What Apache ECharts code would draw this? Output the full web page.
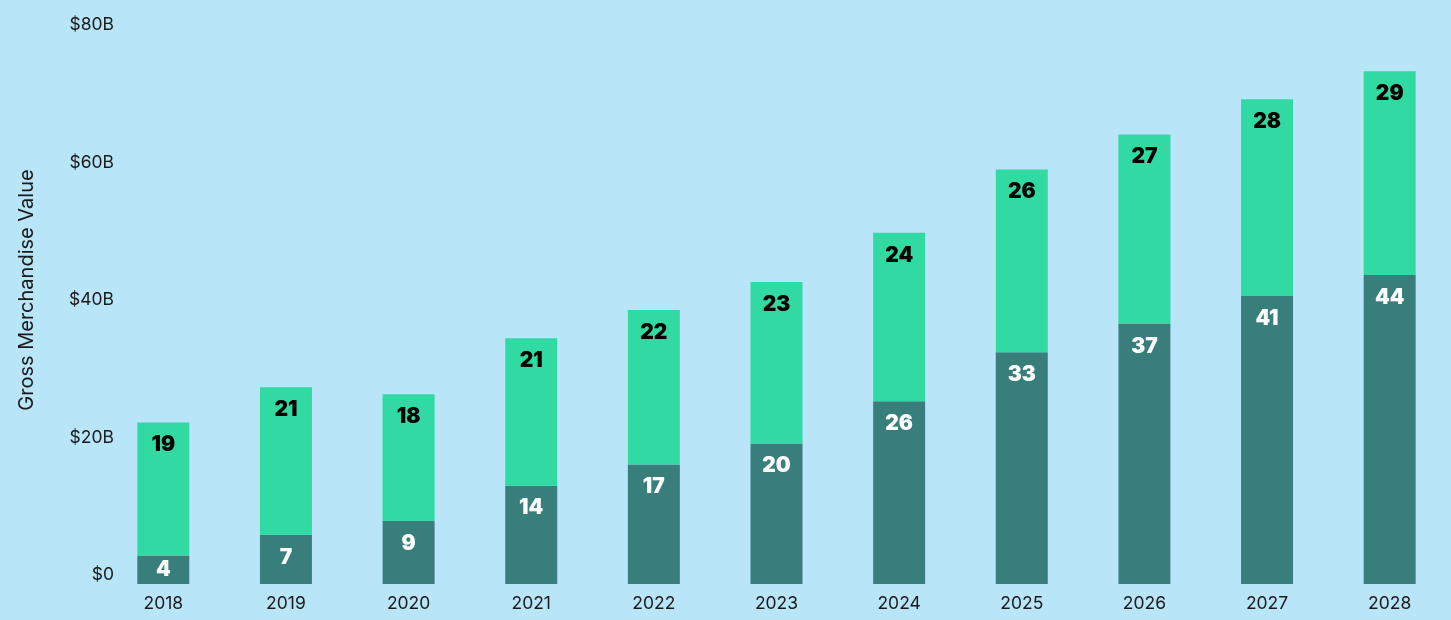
<!DOCTYPE html>
<html>
<head>
<meta charset="utf-8">
<script src="https://cdn.jsdelivr.net/npm/echarts@6/dist/echarts.min.js"></script>
<style>
html,body{margin:0;padding:0;background:#b9e5f9;}
#chart{width:1451px;height:620px;}
</style>
</head>
<body>
<div id="chart"></div>
<script>
const years = ['2018','2019','2020','2021','2022','2023','2024','2025','2026','2027','2028'];
const lowerValues = [4, 7, 9, 14, 17, 20, 26, 33, 37, 41, 44];
const upperValues = [19, 21, 18, 21, 22, 23, 24, 26, 27, 28, 29];
const yTickValues = [0, 20, 40, 60, 80];
const yTickLabels = ['$0', '$20B', '$40B', '$60B', '$80B'];
const yAxisTitle = 'Gross Merchandise Value';

const chart = echarts.init(document.getElementById('chart'));
const labelFont = 'Inter, "Noto Sans", sans-serif';
const barLabel = function (color) {
  return { show: true, position: 'insideTop', distance: 12, color: color, fontSize: 21, fontWeight: 900, fontFamily: labelFont };
};
chart.setOption({
  backgroundColor: '#b9e5f9',
  animation: false,
  grid: [
    { left: 102, right: 0, top: 22, bottom: 36 },
    { left: 122, right: 0, top: 25, bottom: 45 }
  ],
  xAxis: [
    {
      type: 'category', data: years, gridIndex: 0,
      axisLine: { show: false }, axisTick: { show: false },
      axisLabel: { color: '#1a1a1a', fontSize: 17.5, fontFamily: labelFont, margin: 11 }
    },
    { type: 'value', gridIndex: 1, show: false }
  ],
  yAxis: [
    { type: 'value', gridIndex: 0, min: 0, max: 80, show: false },
    {
      type: 'value', gridIndex: 1, min: 0, max: 80, interval: 20,
      axisLine: { show: false }, axisTick: { show: false }, splitLine: { show: false },
      axisLabel: {
        color: '#1a1a1a', fontSize: 17.5, fontFamily: labelFont, margin: 8,
        formatter: function (v) { const i = yTickValues.indexOf(v); return i >= 0 ? yTickLabels[i] : ''; }
      }
    }
  ],
  graphic: [{
    type: 'text', x: 27, y: 290, rotation: Math.PI / 2,
    style: { text: yAxisTitle, fill: '#1a1a1a', font: '20px Inter, "Noto Sans", sans-serif', textAlign: 'center', textVerticalAlign: 'middle' }
  }],
  series: [
    {
      type: 'bar', stack: 'gmv', barWidth: 52,
      data: lowerValues.map(function (v, i) {
        return i === 0 ? { value: v, label: { position: 'inside' } } : v;
      }),
      itemStyle: { color: '#387f7c' },
      label: barLabel('#ffffff')
    },
    {
      type: 'bar', stack: 'gmv', data: upperValues, barWidth: 52,
      itemStyle: { color: '#31d9a3' },
      label: barLabel('#000000')
    }
  ]
});
</script>
</body>
</html>
